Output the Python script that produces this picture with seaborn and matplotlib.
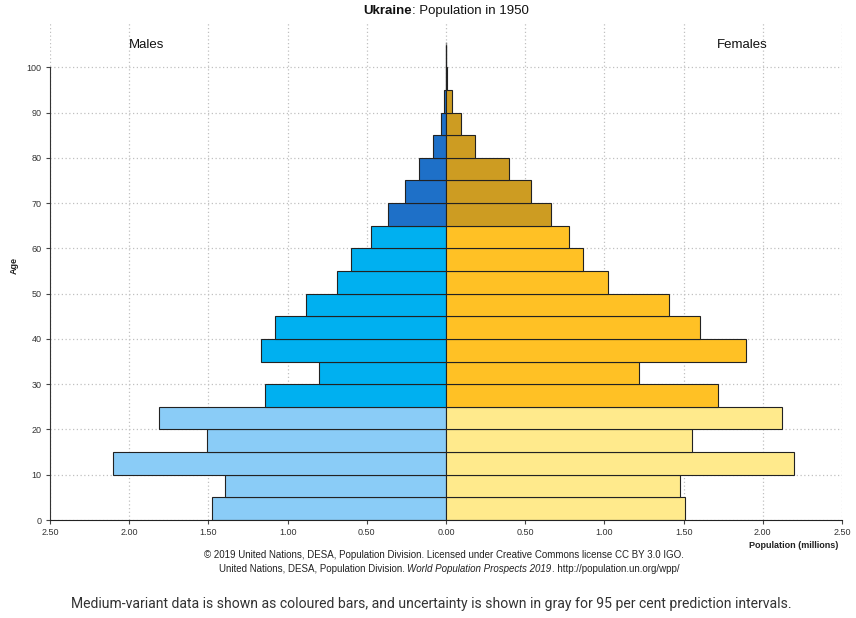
import matplotlib
matplotlib.use("Agg")
import matplotlib.pyplot as plt
import seaborn as sns
import pandas as pd
from matplotlib.offsetbox import TextArea, HPacker, AnchoredOffsetbox

# age groups (start of each 5-year band) and population in millions
age_groups = ["0-4", "5-9", "10-14", "15-19", "20-24", "25-29", "30-34", "35-39",
              "40-44", "45-49", "50-54", "55-59", "60-64", "65-69", "70-74",
              "75-79", "80-84", "85-89", "90-94", "95-99", "100+"]
age_start = [0, 5, 10, 15, 20, 25, 30, 35, 40, 45, 50, 55, 60, 65, 70, 75, 80, 85, 90, 95, 100]
males = [1.479, 1.395, 2.104, 1.507, 1.810, 1.141, 0.800, 1.166, 1.082, 0.886,
         0.690, 0.598, 0.473, 0.368, 0.261, 0.170, 0.084, 0.030, 0.013, 0.003, 0.0]
females = [1.509, 1.475, 2.200, 1.553, 2.119, 1.715, 1.218, 1.891, 1.603, 1.408,
           1.025, 0.862, 0.774, 0.663, 0.539, 0.400, 0.183, 0.095, 0.035, 0.008, 0.0]
# 0-24 young, 25-64 working, 65+ old
bands = ["young"] * 5 + ["working"] * 8 + ["old"] * 8

male_colors = {"young": "#8ACCF7", "working": "#00B0F0", "old": "#1E70C8"}
female_colors = {"young": "#FFEA8C", "working": "#FFC125", "old": "#CD9C22"}

df = pd.DataFrame({
    "group": age_groups,
    "age": [a + 2.5 for a in age_start],
    "male": [-m for m in males],
    "female": females,
    "band": bands,
})

plt.rcParams["font.family"] = ["Liberation Sans", "DejaVu Sans"]

W, H = 856, 618
fig = plt.figure(figsize=(W / 100, H / 100), dpi=100)
ax = fig.add_axes([50 / W, (H - 520) / H, 792 / W, 498 / H])

ax.vlines(0, 0, 105.5, color="#888888", lw=1, zorder=1)

bar_kw = dict(orient="y", native_scale=True, width=1, edgecolor="#222222",
              linewidth=0.8, legend=False, ax=ax, zorder=2, saturation=1)
sns.barplot(data=df, x="male", y="age", hue="band", palette=male_colors, **bar_kw)
sns.barplot(data=df, x="female", y="age", hue="band", palette=female_colors, **bar_kw)

ax.set_xlim(-2.5, 2.5)
ax.set_ylim(0, 110)
xt = [-2.5, -2.0, -1.5, -1.0, -0.5, 0, 0.5, 1.0, 1.5, 2.0, 2.5]
ax.set_xticks(xt)
ax.set_xticklabels([f"{abs(v):.2f}" for v in xt])
ax.set_yticks(range(0, 101, 10))
ax.set_xlabel("")
ax.set_ylabel("")

ax.set_axisbelow(True)
ax.grid(True, linestyle=(0, (1, 2)), color="#c0c0c0", linewidth=0.9)
for s in ["top", "right"]:
    ax.spines[s].set_visible(False)
ax.spines["left"].set_bounds(0, 100)
ax.spines["left"].set_color("#333333")
ax.spines["bottom"].set_color("#222222")
ax.tick_params(length=3, width=0.8, labelsize=6.5, labelcolor="#333333", pad=3, color="#444444")

ax.text(-1.89, 105, "Males", ha="center", va="center", fontsize=9.5, color="#111111")
ax.text(1.87, 105, "Females", ha="center", va="center", fontsize=9.5, color="#111111")

fig.text(14 / W, 1 - 265 / H, "Age", rotation=90, ha="center", va="center",
         fontsize=6.5, fontweight="bold", color="#222222")
fig.text(838 / W, 1 - 545 / H, "Population (millions)", ha="right", va="center",
         fontsize=6.5, fontweight="bold", color="#222222")


def rich_line(parts, x, y, size, color="#222222"):
    boxes = [TextArea(t, textprops=dict(fontsize=size, color=color, **kw)) for t, kw in parts]
    pack = HPacker(children=boxes, align="baseline", pad=0, sep=0)
    box = AnchoredOffsetbox(loc="center", child=pack, bbox_to_anchor=(x / W, 1 - y / H),
                            bbox_transform=fig.transFigure, frameon=False, pad=0, borderpad=0)
    fig.add_artist(box)


rich_line([("Ukraine", {"fontweight": "bold"}), (": Population in 1950", {})], 446, 11, 9.5, "#111111")
fig.text(444 / W, 1 - 555 / H,
         "© 2019 United Nations, DESA, Population Division. Licensed under Creative Commons license CC BY 3.0 IGO.",
         ha="center", va="center", fontsize=7.0, color="#222222")
rich_line([("United Nations, DESA, Population Division. ", {}),
           ("World Population Prospects 2019", {"fontstyle": "italic"}),
           (". http://population.un.org/wpp/", {})], 449, 569, 7.0)

fig.text(431 / W, 1 - 604 / H,
         "Medium-variant data is shown as coloured bars, and uncertainty is shown in gray for 95 per cent prediction intervals.",
         ha="center", va="center", fontsize=10.1, color="#333333", family="Roboto")

fig.savefig("out.png", dpi=100)
